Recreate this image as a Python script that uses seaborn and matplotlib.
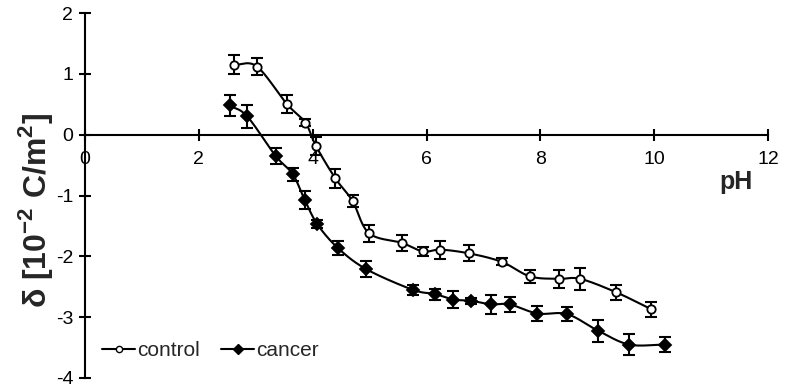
import numpy as np
import pandas as pd
import matplotlib
matplotlib.use("Agg")
import matplotlib.pyplot as plt
from matplotlib.lines import Line2D
import seaborn as sns

# control series (open circles)
control_ph = [2.62, 3.02, 3.55, 3.87, 4.06, 4.40, 4.70, 4.99, 5.57, 5.94, 6.24,
              6.74, 7.32, 7.82, 8.32, 8.70, 9.33, 9.95]
control_val = [1.15, 1.12, 0.50, 0.20, -0.19, -0.72, -1.09, -1.62, -1.78, -1.92, -1.89,
               -1.95, -2.09, -2.33, -2.37, -2.37, -2.59, -2.87]
control_err = [0.16, 0.14, 0.15, 0.05, 0.15, 0.16, 0.10, 0.14, 0.13, 0.08, 0.15,
               0.13, 0.06, 0.11, 0.15, 0.18, 0.12, 0.12]

# cancer series (filled diamonds)
cancer_ph = [2.54, 2.85, 3.35, 3.65, 3.86, 4.08, 4.44, 4.94, 5.76, 6.15, 6.47,
             6.78, 7.13, 7.46, 7.95, 8.47, 9.01, 9.56, 10.19]
cancer_val = [0.48, 0.30, -0.35, -0.65, -1.07, -1.47, -1.86, -2.21, -2.55, -2.62, -2.71,
              -2.73, -2.79, -2.79, -2.94, -2.95, -3.22, -3.45, -3.45]
cancer_err = [0.17, 0.19, 0.13, 0.11, 0.15, 0.06, 0.12, 0.13, 0.08, 0.09, 0.14,
              0.05, 0.15, 0.12, 0.12, 0.12, 0.18, 0.17, 0.13]

x_ticks = [0, 2, 4, 6, 8, 10, 12]
y_ticks = [-4, -3, -2, -1, 0, 1, 2]


def smooth(x, y, n=20):
    # Catmull-Rom curve through the points, like a spreadsheet "smoothed line"
    p = np.column_stack([x, y]).astype(float)
    p = np.vstack([2 * p[0] - p[1], p, 2 * p[-1] - p[-2]])
    out = []
    t = np.linspace(0, 1, n, endpoint=False)[:, None]
    for i in range(1, len(p) - 2):
        p0, p1, p2, p3 = p[i - 1], p[i], p[i + 1], p[i + 2]
        seg = 0.5 * ((2 * p1) + (-p0 + p2) * t + (2 * p0 - 5 * p1 + 4 * p2 - p3) * t ** 2
                     + (-p0 + 3 * p1 - 3 * p2 + p3) * t ** 3)
        out.append(seg)
    out.append(p[-2][None, :])
    out = np.vstack(out)
    return pd.DataFrame({"pH": out[:, 0], "delta": out[:, 1]})


sns.set_style("ticks")
plt.rcParams["font.family"] = ["Liberation Sans", "DejaVu Sans"]

fig = plt.figure(figsize=(7.86, 3.91), dpi=100)
ax = fig.add_axes([85 / 786, 1 - 378 / 391, (768 - 85) / 786, (378 - 13) / 391])

for xs, ys, es, marker, face, ms in [
    (control_ph, control_val, control_err, "o", "white", 6),
    (cancer_ph, cancer_val, cancer_err, "D", "black", 6.5),
]:
    curve = smooth(xs, ys)
    sns.lineplot(data=curve, x="pH", y="delta", sort=False, color="black",
                 linewidth=1.5, ax=ax, estimator=None)
    ax.errorbar(xs, ys, yerr=es, fmt="none", ecolor="black", elinewidth=1.5,
                capsize=4, capthick=1.5, zorder=3)
    ax.plot(xs, ys, linestyle="none", marker=marker, markersize=ms,
            markerfacecolor=face, markeredgecolor="black", markeredgewidth=1.3, zorder=4)

ax.set_xlim(0, 12)
ax.set_ylim(-4, 2)
ax.set_xticks(x_ticks)
ax.set_yticks(y_ticks)
ax.set_xticklabels([str(v) for v in x_ticks])
ax.set_yticklabels([str(v) for v in y_ticks])

ax.spines["top"].set_visible(False)
ax.spines["right"].set_visible(False)
ax.spines["left"].set_position(("data", 0))
ax.spines["bottom"].set_position(("data", 0))
for s in ["left", "bottom"]:
    ax.spines[s].set_linewidth(1.5)
    ax.spines[s].set_color("black")
ax.tick_params(axis="both", direction="inout", length=9, width=1.5, labelsize=14,
               colors="black")
ax.tick_params(axis="x", pad=7)
ax.tick_params(axis="y", pad=4)

ax.set_xlabel("")
ax.set_ylabel("")
fig.text(736 / 786, 1 - 182 / 391, "pH", fontsize=18, fontweight="bold",
         ha="center", va="center")
fig.text(36 / 786, 1 - 210 / 391, r"$\mathregular{\delta}$ [10$^{\mathregular{-2}}$ C/m$^{\mathregular{2}}$]",
         fontsize=23, fontweight="bold", rotation=90, ha="center", va="center")

handles = [
    Line2D([], [], color="black", linewidth=1.5, marker="o", markersize=4.5,
           markerfacecolor="white", markeredgecolor="black"),
    Line2D([], [], color="black", linewidth=1.5, marker="D", markersize=5,
           markerfacecolor="black", markeredgecolor="black"),
]
fig.legend(handles, ["control", "cancer"], loc="center left",
           bbox_to_anchor=(102 / 786, 1 - 351 / 391), ncol=2, frameon=False,
           fontsize=15, handlelength=1.6, handletextpad=0.1, columnspacing=1.0,
           borderpad=0, borderaxespad=0)

fig.savefig("out.png", dpi=100)
